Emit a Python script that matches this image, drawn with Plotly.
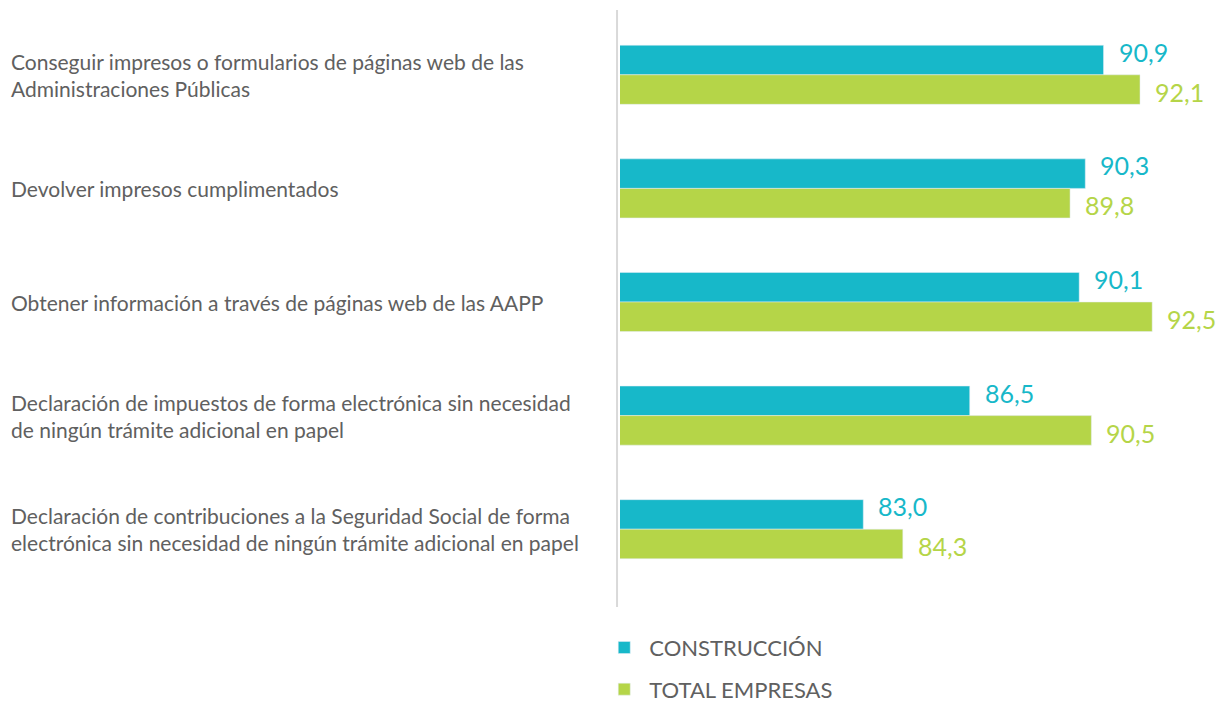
import plotly.graph_objects as go

categories = [
    "Conseguir impresos o formularios de páginas web de las<br>Administraciones Públicas",
    "Devolver impresos cumplimentados",
    "Obtener información a través de páginas web de las AAPP",
    "Declaración de impuestos de forma electrónica sin necesidad<br>de ningún trámite adicional en papel",
    "Declaración de contribuciones a la Seguridad Social de forma<br>electrónica sin necesidad de ningún trámite adicional en papel",
]
construccion = [90.9, 90.3, 90.1, 86.5, 83.0]
total_empresas = [92.1, 89.8, 92.5, 90.5, 84.3]
series_names = ["CONSTRUCCIÓN", "TOTAL EMPRESAS"]

CYAN = "#17b8c9"
GREEN = "#b5d548"
TEXT = "#606060"
FONT = "Lato"

W, H = 1221, 704
ML, MR, MT, MB = 620, 8, 18, 118
plot_w = W - ML - MR
plot_h = H - MT - MB

fig = go.Figure()
fig.add_trace(go.Bar(y=categories, x=construccion, orientation="h", name=series_names[0],
                     marker_color=CYAN, legendgroup="a", hoverinfo="x+name"))
fig.add_trace(go.Bar(y=categories, x=total_empresas, orientation="h", name=series_names[1],
                     marker_color=GREEN, legendgroup="b", hoverinfo="x+name"))

def fmt(v):
    return f"{v:.1f}".replace(".", ",")

for cat, v in zip(categories, construccion):
    fig.add_annotation(x=v, y=cat, xref="x", yref="y", text=fmt(v), showarrow=False,
                       xanchor="left", yanchor="middle", xshift=13, yshift=23,
                       font=dict(family=FONT, size=25, color=CYAN))
for cat, v in zip(categories, total_empresas):
    fig.add_annotation(x=v, y=cat, xref="x", yref="y", text=fmt(v), showarrow=False,
                       xanchor="left", yanchor="middle", xshift=13, yshift=-17,
                       font=dict(family=FONT, size=25, color=GREEN))

for cat in categories:
    fig.add_annotation(x=-(ML - 9) / plot_w, y=cat, xref="paper", yref="y", text=cat,
                       showarrow=False, xanchor="left", yanchor="middle", align="left",
                       font=dict(family=FONT, size=21, color=TEXT))

fig.add_shape(type="line", xref="paper", yref="paper", x0=-0.005, x1=-0.005,
              y0=-(607 - (H - MB)) / plot_h, y1=1 + 8 / plot_h,
              line=dict(color="#d9d9d9", width=2))

fig.update_layout(
    width=W, height=H,
    margin=dict(l=ML, r=MR, t=MT, b=MB, autoexpand=False),
    paper_bgcolor="white", plot_bgcolor="white",
    barmode="group", bargap=0.48, bargroupgap=0,
    xaxis=dict(range=[75, 94.5], visible=False, fixedrange=True),
    yaxis=dict(autorange="reversed", showticklabels=False, showgrid=False,
               zeroline=False, showline=False, ticks="", fixedrange=True),
    showlegend=True,
    legend=dict(x=-0.035, y=-0.0717, xanchor="left", yanchor="top", orientation="v",
                font=dict(family=FONT, size=22, color=TEXT),
                itemwidth=40, tracegroupgap=10, traceorder="grouped",
                bgcolor="rgba(0,0,0,0)"),
    font=dict(family=FONT),
)

fig.write_html("out.html", config={"displayModeBar": False},
               post_script="document.body.style.margin='0';")
